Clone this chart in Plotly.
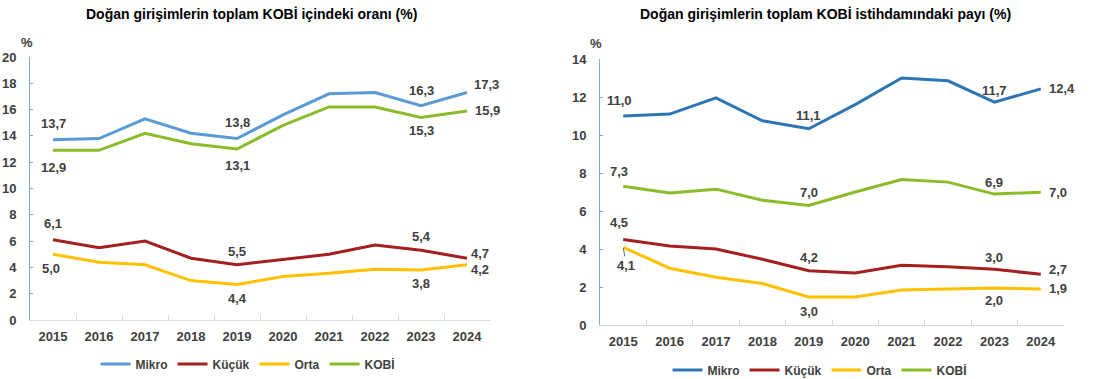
import plotly.graph_objects as go

years = ["2015", "2016", "2017", "2018", "2019", "2020", "2021", "2022", "2023", "2024"]
series_names = ["Mikro", "Küçük", "Orta", "KOBİ"]

# Left chart: share of new enterprises in total SMEs (%)
left_mikro = [13.7, 13.8, 15.3, 14.2, 13.8, 15.6, 17.2, 17.3, 16.3, 17.3]
left_kucuk = [6.1, 5.5, 6.0, 4.7, 4.2, 4.6, 5.0, 5.7, 5.3, 4.7]
left_orta = [5.0, 4.4, 4.2, 3.0, 2.7, 3.3, 3.55, 3.85, 3.8, 4.2]
left_kobi = [12.9, 12.9, 14.2, 13.4, 13.0, 14.8, 16.2, 16.2, 15.4, 15.9]

# Right chart: share of new enterprises in total SME employment (%)
right_mikro = [11.0, 11.1, 11.95, 10.75, 10.33, 11.6, 13.0, 12.85, 11.73, 12.43]
right_kucuk = [4.5, 4.16, 4.0, 3.46, 2.86, 2.74, 3.14, 3.07, 2.93, 2.67]
right_orta = [4.09, 2.99, 2.51, 2.18, 1.48, 1.48, 1.84, 1.9, 1.95, 1.9]
right_kobi = [7.3, 6.95, 7.15, 6.57, 6.29, 7.0, 7.66, 7.52, 6.89, 6.99]

# Label texts as printed on the chart (years 2015, 2019, 2023, 2024)
label_years = ["2015", "2019", "2023", "2024"]
left_labels = {
    "Mikro": ["13,7", "13,8", "16,3", "17,3"],
    "Küçük": ["6,1", "5,5", "5,4", "4,7"],
    "Orta": ["5,0", "4,4", "3,8", "4,2"],
    "KOBİ": ["12,9", "13,1", "15,3", "15,9"],
}
right_labels = {
    "Mikro": ["11,0", "11,1", "11,7", "12,4"],
    "Küçük": ["4,5", "4,2", "3,0", "2,7"],
    "Orta": ["4,1", "3,0", "2,0", "1,9"],
    "KOBİ": ["7,3", "7,0", "6,9", "7,0"],
}

left_title = "Doğan girişimlerin toplam KOBİ içindeki oranı (%)"
right_title = "Doğan girişimlerin toplam KOBİ istihdamındaki payı (%)"

left_colors = {"Mikro": "#5b9bd5", "Küçük": "#a31f20", "Orta": "#ffc000", "KOBİ": "#8cbb2a"}
right_colors = {"Mikro": "#2e75b6", "Küçük": "#a31f20", "Orta": "#ffc000", "KOBİ": "#8cbb2a"}

FONT = "Liberation Sans, Arial, sans-serif"
TXT = "#404040"

left_vals = {"Mikro": left_mikro, "Küçük": left_kucuk, "Orta": left_orta, "KOBİ": left_kobi}
right_vals = {"Mikro": right_mikro, "Küçük": right_kucuk, "Orta": right_orta, "KOBİ": right_kobi}

fig = go.Figure()
for name in series_names:
    fig.add_trace(go.Scatter(x=years, y=left_vals[name], mode="lines", name=name,
                             line=dict(color=left_colors[name], width=3),
                             xaxis="x", yaxis="y", legend="legend", hoverinfo="skip"))
for name in series_names:
    fig.add_trace(go.Scatter(x=years, y=right_vals[name], mode="lines", name=name,
                             line=dict(color=right_colors[name], width=3),
                             xaxis="x2", yaxis="y2", legend="legend2", hoverinfo="skip"))

# label offsets (xanchor, xshift, yshift) per series per label year
left_off = {
    "Mikro": [("center", 0, 16), ("center", 0, 16), ("center", 0, 15), ("left", 5, 8)],
    "Küçük": [("center", 0, 16), ("center", 0, 13), ("center", 0, 14), ("left", 2, 5)],
    "Orta": [("center", -2, -14), ("center", 0, -14), ("center", 0, -13), ("left", 2, -5)],
    "KOBİ": [("center", 0, -17), ("center", 0, -16), ("center", 0, -13), ("left", 6, 0)],
}
right_off = {
    "Mikro": [("center", -4, 16), ("center", 0, 13), ("center", 0, 12), ("left", 6, 0)],
    "Küçük": [("center", -4, 17), ("center", 0, 13), ("center", 0, 12), ("left", 6, 5)],
    "Orta": [None, ("center", 0, -15), ("center", 0, -13), ("left", 6, 0)],
    "KOBİ": [("center", -4, 15), ("center", 0, 13), ("center", 0, 12), ("left", 6, 0)],
}

annotations = []
lab_font = dict(family=FONT, size=13, color=TXT, weight="bold")
for labels, vals, offs, xr, yr in [(left_labels, left_vals, left_off, "x", "y"),
                                   (right_labels, right_vals, right_off, "x2", "y2")]:
    for name in series_names:
        for i, yr_lab in enumerate(label_years):
            idx = years.index(yr_lab)
            yv = vals[name][idx]
            off = offs[name][i]
            if off is None:
                annotations.append(dict(x=idx, y=yv, xref=xr, yref=yr, text=labels[name][i],
                                        showarrow=True, arrowhead=0, arrowwidth=0.8,
                                        arrowcolor=TXT, ax=3, ay=18, standoff=1,
                                        font=lab_font))
            else:
                xa, xs, ys = off
                annotations.append(dict(x=idx, y=yv, xref=xr, yref=yr, text=labels[name][i],
                                        showarrow=False, xanchor=xa, yanchor="middle",
                                        xshift=xs, yshift=ys, font=lab_font))

title_font = dict(family=FONT, size=14, color="#000000", weight="bold")
annotations += [
    dict(x=251 / 1108, y=1 - 14 / 379, xref="paper", yref="paper", text=left_title,
         showarrow=False, xanchor="center", yanchor="middle", font=title_font),
    dict(x=825 / 1108, y=1 - 14 / 379, xref="paper", yref="paper", text=right_title,
         showarrow=False, xanchor="center", yanchor="middle", font=title_font),
    dict(x=27 / 1108, y=1 - 42 / 379, xref="paper", yref="paper", text="%",
         showarrow=False, xanchor="center", yanchor="middle",
         font=dict(family=FONT, size=13, color=TXT, weight="bold")),
    dict(x=596 / 1108, y=1 - 43 / 379, xref="paper", yref="paper", text="%",
         showarrow=False, xanchor="center", yanchor="middle",
         font=dict(family=FONT, size=13, color=TXT, weight="bold")),
]

tick_font = dict(family=FONT, size=13, color=TXT, weight="bold")
xcommon = dict(type="category", showgrid=False, showline=True, linecolor="#d9d9d9", linewidth=1,
               ticks="inside", tickson="boundaries", ticklen=5, tickcolor="#d9d9d9",
               ticklabelstandoff=4,
               tickfont=tick_font, zeroline=False, fixedrange=True,
               range=[-0.5, len(years) - 0.5], categoryorder="array", categoryarray=years)
ycommon = dict(showgrid=False, showline=True, linecolor="#7fa7cf", linewidth=1,
               ticks="inside", ticklen=3, tickcolor="#7fa7cf", tickfont=tick_font,
               ticklabelstandoff=10,
               zeroline=False, fixedrange=True)

leg_font = dict(family=FONT, size=12, color=TXT, weight="bold")
fig.update_layout(
    width=1108, height=379,
    margin=dict(l=0, r=0, t=0, b=0, autoexpand=False),
    paper_bgcolor="white", plot_bgcolor="white",
    font=dict(family=FONT, color=TXT),
    xaxis=dict(domain=[30 / 1108, 490 / 1108], anchor="y", **xcommon),
    yaxis=dict(domain=[1 - 320 / 379, 1 - 57 / 379], anchor="x", range=[0, 20], dtick=2, **ycommon),
    xaxis2=dict(domain=[600 / 1108, 1064 / 1108], anchor="y2", **xcommon),
    yaxis2=dict(domain=[1 - 325 / 379, 1 - 59 / 379], anchor="x2", range=[0, 14], dtick=2, **ycommon),
    legend=dict(orientation="h", x=248 / 1108, y=1 - 364 / 379, xanchor="center", yanchor="middle",
                font=leg_font, itemwidth=30, tracegroupgap=0, bgcolor="rgba(0,0,0,0)"),
    legend2=dict(orientation="h", x=820 / 1108, y=1 - 370 / 379, xanchor="center", yanchor="middle",
                 font=leg_font, itemwidth=30, tracegroupgap=0, bgcolor="rgba(0,0,0,0)"),
    annotations=annotations,
)

fig.write_html("out.html", config={"displayModeBar": False},
               post_script="document.body.style.margin='0';")
